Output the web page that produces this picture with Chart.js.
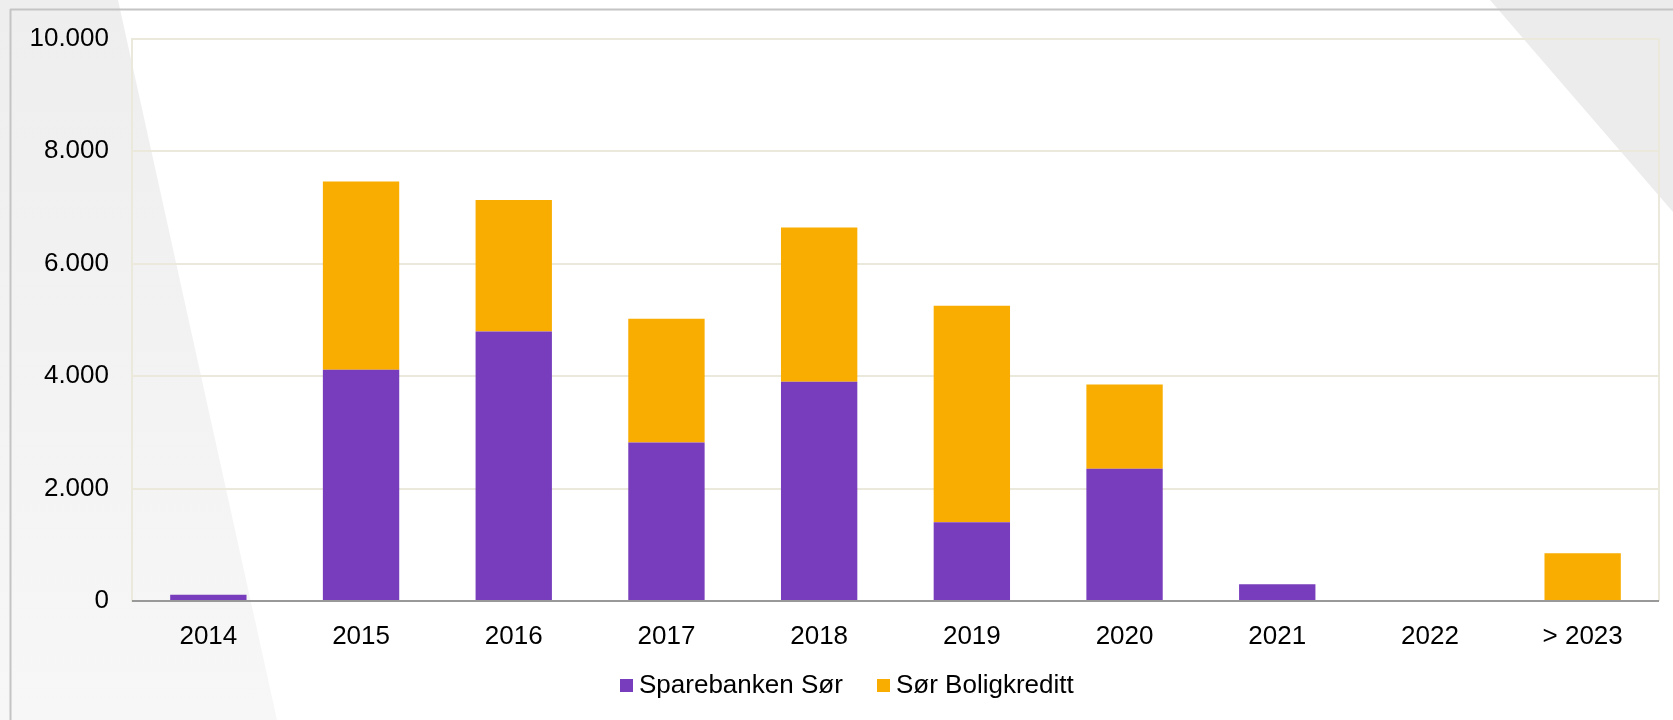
<!DOCTYPE html>
<html>
<head>
<meta charset="utf-8">
<script src="https://cdn.jsdelivr.net/npm/chart.js@4/dist/chart.umd.min.js"></script>
<style>
  html, body { margin: 0; padding: 0; background: #fff; overflow: hidden; }
  #bg { position: absolute; left: 0; top: 0; width: 1673px; height: 720px; }
  #wrap { position: absolute; left: 0; top: 0; width: 1673px; height: 720px; }
  #legend {
    position: absolute; left: 0; top: 667px; width: 1673px; height: 34px;
    font-family: "Liberation Sans", Arial, sans-serif; font-size: 26px; color: #000;
  }
  .item { position: absolute; top: 0; line-height: 34px; white-space: nowrap; }
  .sw { position: absolute; top: 12px; width: 13px; height: 13px; }
</style>
</head>
<body>
<svg id="bg" width="1673" height="720">
  <defs>
    <linearGradient id="lg" x1="0" y1="0" x2="0" y2="1">
      <stop offset="0" stop-color="#eeeeee"/>
      <stop offset="1" stop-color="#f7f7f7"/>
    </linearGradient>
  </defs>
  <polygon points="0,0 118,0 277,720 0,720" fill="url(#lg)"/>
  <polygon points="1490,0 1673,0 1673,212" fill="#ececec"/>
  <line x1="10" y1="9.5" x2="1673" y2="9.5" stroke="#c4c4c4" stroke-width="2"/>
  <line x1="10.5" y1="9" x2="10.5" y2="720" stroke="#c4c4c4" stroke-width="2"/>
</svg>
<div id="wrap"><canvas id="chart"></canvas></div>
<div id="legend">
  <div class="item" style="left:620px"><span class="sw" style="left:0;background:#783dbd"></span><span style="margin-left:19px">Sparebanken Sør</span></div>
  <div class="item" style="left:877px"><span class="sw" style="left:0;background:#f9ad00"></span><span style="margin-left:19px">Sør Boligkreditt</span></div>
</div>
<script>
  // ─── Data ────────────────────────────────────────────
  const categories = ['2014', '2015', '2016', '2017', '2018', '2019', '2020', '2021', '2022', '> 2023'];
  const sparebankenSor = [110, 4110, 4790, 2820, 3900, 1400, 2350, 300, 0, 0];
  const sorBoligkreditt = [0, 3350, 2340, 2200, 2740, 3850, 1500, 0, 0, 850];
  const yTicks = [0, 2000, 4000, 6000, 8000, 10000];

  const FONT = '"Liberation Sans", Arial, sans-serif';
  const GRID = '#ebe8dc';

  function fmt(v) {
    return String(v).replace(/\B(?=(\d{3})+(?!\d))/g, '.');
  }

  // right border of plot area + zero line over the bars
  const frameRight = {
    id: 'frameRight',
    afterDatasetsDraw(chart) {
      const a = chart.chartArea, ctx = chart.ctx;
      ctx.save();
      ctx.strokeStyle = GRID;
      ctx.lineWidth = 2;
      ctx.beginPath();
      ctx.moveTo(a.right, a.top);
      ctx.lineTo(a.right, a.bottom);
      ctx.stroke();
      ctx.strokeStyle = '#999999';
      ctx.beginPath();
      const y0 = chart.scales.y.getPixelForValue(0);
      ctx.moveTo(a.left, y0);
      ctx.lineTo(a.right, y0);
      ctx.stroke();
      ctx.restore();
    }
  };

  new Chart(document.getElementById('chart'), {
    type: 'bar',
    data: {
      labels: categories,
      datasets: [
        { label: 'Sparebanken Sør', data: sparebankenSor, backgroundColor: '#783dbd',
          categoryPercentage: 1, barPercentage: 0.5 },
        { label: 'Sør Boligkreditt', data: sorBoligkreditt, backgroundColor: '#f9ad00',
          categoryPercentage: 1, barPercentage: 0.5 }
      ]
    },
    options: {
      responsive: true,
      maintainAspectRatio: false,
      animation: false,
      layout: { padding: { left: 0, right: 14, top: 38, bottom: 57 } },
      plugins: {
        legend: { display: false },
        tooltip: { enabled: false }
      },
      scales: {
        x: {
          stacked: true,
          grid: { display: false },
          border: { display: false },
          ticks: { color: '#000', font: { family: FONT, size: 26 }, padding: 12, maxRotation: 0 },
          afterFit: (s) => { s.height = 62; }
        },
        y: {
          stacked: true,
          min: 0,
          max: 10000,
          afterBuildTicks: (s) => { s.ticks = yTicks.map(v => ({ value: v })); },
          grid: { color: GRID, lineWidth: 2, drawTicks: false },
          border: { display: true, color: GRID, width: 2 },
          ticks: {
            color: '#000',
            font: { family: FONT, size: 26 },
            padding: 23,
            callback: (v) => fmt(v)
          },
          afterFit: (s) => { s.width = 132; }
        }
      }
    },
    plugins: [frameRight]
  });
</script>
</body>
</html>
